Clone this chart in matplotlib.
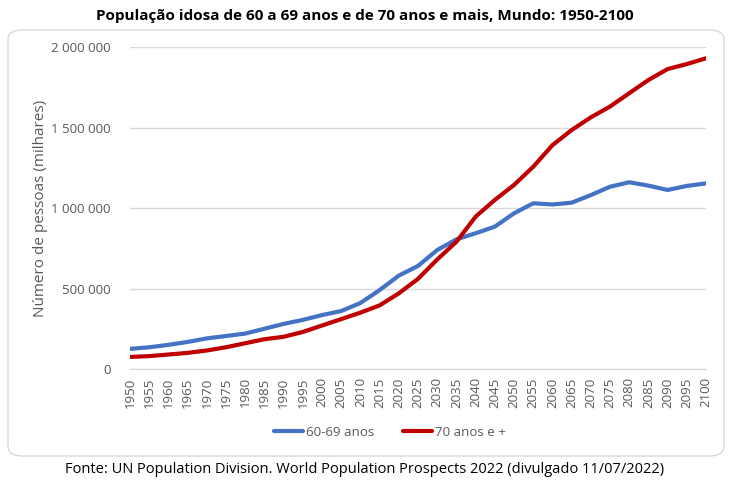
import matplotlib.pyplot as plt
from matplotlib.patches import FancyBboxPatch
from matplotlib.ticker import FuncFormatter

# anos (dados de 5 em 5 anos)
anos = list(range(1950, 2101, 5))

# população em milhares
pop_60_69 = [125000, 135000, 150000, 168000, 190000, 205000, 220000, 250000, 280000, 305000,
             335000, 360000, 410000, 490000, 580000, 640000, 739000, 805000, 843000, 884000,
             967000, 1029000, 1022000, 1033000, 1080000, 1132000, 1160000, 1139000, 1112000,
             1137000, 1153000]
pop_70_mais = [75000, 80000, 90000, 100000, 115000, 135000, 160000, 185000, 200000, 230000,
               270000, 310000, 350000, 395000, 470000, 560000, 680000, 790000, 946000, 1050000,
               1143000, 1256000, 1390000, 1484000, 1563000, 1630000, 1713000, 1795000, 1863000,
               1894000, 1930000]

plt.rcParams['font.family'] = ['Open Sans', 'DejaVu Sans']
cinza = '#595959'

fig = plt.figure(figsize=(7.3, 4.86), dpi=100)
ax = fig.add_axes([130/730, 1 - 369/486, 576/730, 322/486])

# moldura arredondada do gráfico
moldura = FancyBboxPatch((8/730, 1 - 456/486), 716/730, 426/486,
                         boxstyle='round,pad=0,rounding_size=0.02',
                         transform=fig.transFigure, fill=False,
                         edgecolor='#D9D9D9', linewidth=1)
fig.patches.append(moldura)

ax.plot(anos, pop_60_69, color='#4472C4', linewidth=3, label='60-69 anos',
        solid_capstyle='round')
ax.plot(anos, pop_70_mais, color='#C00000', linewidth=3, label='70 anos e +',
        solid_capstyle='round')

ax.set_xlim(1950, 2100)
ax.set_ylim(0, 2000000)
ax.set_xticks(anos)
ax.set_xticklabels([str(a) for a in anos], rotation=90)
ax.set_yticks([0, 500000, 1000000, 1500000, 2000000])
ax.yaxis.set_major_formatter(FuncFormatter(lambda v, p: f'{int(v):,}'.replace(',', ' ')))

ax.grid(axis='y', color='#D9D9D9', linewidth=1)
ax.set_axisbelow(True)
for s in ['top', 'right', 'left']:
    ax.spines[s].set_visible(False)
ax.spines['bottom'].set_color('#D9D9D9')
ax.tick_params(axis='both', length=0, colors=cinza, labelsize=9.5)
ax.tick_params(axis='y', pad=14)
ax.tick_params(axis='x', pad=6)

ax.set_ylabel('Número de pessoas (milhares)', color=cinza, fontsize=11, labelpad=2)

fig.text(0.5, 1 - 16/486, 'População idosa de 60 a 69 anos e de 70 anos e mais, Mundo: 1950-2100',
         ha='center', va='center', fontsize=11, fontweight='bold')

fig.legend(loc='center', bbox_to_anchor=(390/730, 1 - 432/486), ncol=2, frameon=False,
           fontsize=9.5, labelcolor=cinza, handlelength=2.2, handletextpad=0.2,
           columnspacing=2.2)

fig.text(0.5, 1 - 469/486,
         'Fonte: UN Population Division. World Population Prospects 2022 (divulgado 11/07/2022)',
         ha='center', va='center', fontsize=10.5)

fig.savefig('out.png', dpi=100)
